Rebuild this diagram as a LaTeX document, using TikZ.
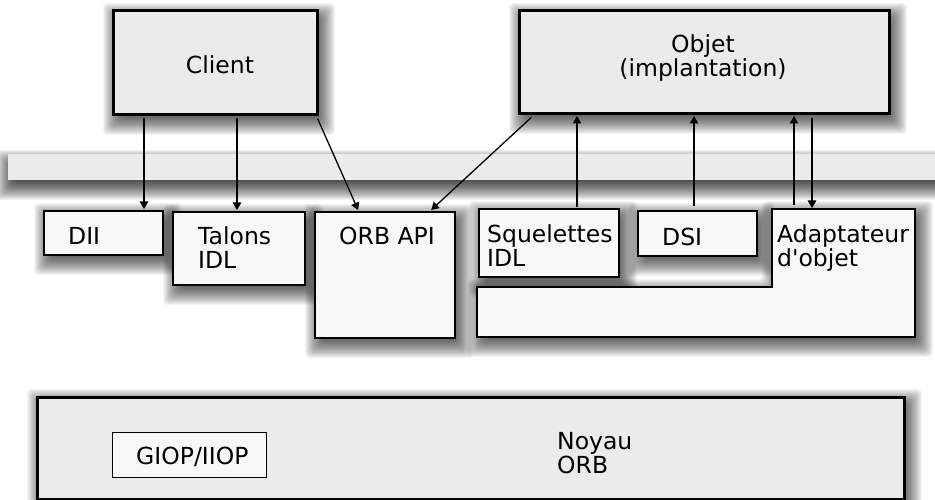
\documentclass[tikz,border=0pt]{standalone}
\usepackage{fontspec}
\setmainfont{DejaVu Sans}
\usetikzlibrary{arrows.meta,backgrounds}
\definecolor{bigfill}{HTML}{EBEBEB}
\definecolor{smallfill}{HTML}{F8F8F8}
\tikzset{
  bigbox/.style={draw=black, line width=3pt, fill=bigfill, anchor=north west, inner sep=0pt, outer sep=0pt},
  smallbox/.style={draw=black, line width=1.8pt, fill=smallfill, anchor=north west, inner sep=0pt, outer sep=0pt},
  lbl/.style={anchor=base west, inner sep=0pt, font=\fontsize{23.5}{24}\selectfont},
  clbl/.style={anchor=base, inner sep=0pt, font=\fontsize{23.5}{24}\selectfont},
  arr/.style={line width=1.3pt, -{Triangle[length=7.5pt,width=8.5pt]}},
  shadelayer/.style={black, opacity=0.045, rounded corners=4pt},
}
\newcommand\myboxshade[1]{%
  \foreach \r in {-10,...,14}{%
    \fill[shadelayer] ([shift={({4-(\r)},{6-(\r)})}]#1.north west) rectangle ([shift={({4+(\r)},{6+(\r)})}]#1.south east);}}
\begin{document}
\begin{tikzpicture}[x=1pt,y=-1pt]
\clip (0,0) rectangle (935,500);
% top boxes
\node[bigbox, minimum width=204pt, minimum height=104pt] (client) at (113,11) {};
\node[bigbox, minimum width=370pt, minimum height=103pt] (objet) at (519,11) {};
\node[clbl] (clientt) at (220,74) {Client};
\node[clbl] (objt1) at (703,53) {Objet};
\node[clbl] (objt2) at (703,77) {(implantation)};
% middle boxes
\node[smallbox, minimum width=119pt, minimum height=44pt] (dii) at (44,211) {};
\node[smallbox, minimum width=132pt, minimum height=73pt] (talons) at (173,212) {};
\node[smallbox, minimum width=140pt, minimum height=126pt] (orbapi) at (315,212) {};
\draw[line width=1.8pt, fill=smallfill] (477,287) -- (772,287) -- (772,209) -- (915,209) -- (915,337) -- (477,337) -- cycle;
\node[anchor=north west, inner sep=0pt, outer sep=0pt, minimum width=143pt, minimum height=128pt] (adapt) at (772,209) {};
\node[smallbox, minimum width=140pt, minimum height=68pt] (squel) at (479,209) {};
\node[smallbox, minimum width=119pt, minimum height=45pt] (dsi) at (638,211) {};
\node[lbl] (diit) at (68,244) {DII};
\node[lbl] (talt1) at (198,244) {Talons};
\node[lbl] (talt2) at (198,268) {IDL};
\node[lbl] (orbt) at (339,244) {ORB API};
\node[lbl] (sqt1) at (487,242) {Squelettes};
\node[lbl] (sqt2) at (487,266) {IDL};
\node[lbl] (dsit) at (662,245) {DSI};
\node[lbl] (adt1) at (777,242) {Adaptateur};
\node[lbl] (adt2) at (777,266) {d\textquotesingle objet};
% bottom
\node[bigbox, minimum width=867pt, minimum height=102pt] (noyau) at (37,397) {};
\node[draw=black, line width=1pt, fill=smallfill, anchor=north west, inner sep=0pt, outer sep=0pt, minimum width=154pt, minimum height=45pt] (giop) at (112,432) {};
\node[lbl] (giopt) at (136,464) {GIOP/IIOP};
\node[lbl] (noyt1) at (557,449) {Noyau};
\node[lbl] (noyt2) at (557,473) {ORB};
% arrows
\draw[arr, shorten <=3pt, shorten >=2pt] ([xshift=31pt]client.south west) -- ([xshift=100pt]dii.north west);
\draw[arr, shorten <=3pt, shorten >=2pt] ([xshift=124pt]client.south west) -- ([xshift=64pt]talons.north west);
\draw[arr, shorten <=4pt, shorten >=2pt] ([xshift=-1pt]client.south east) -- ([xshift=44pt]orbapi.north west);
\draw[arr, shorten <=5pt, shorten >=3pt] ([xshift=16pt]objet.south west) -- ([xshift=114pt]orbapi.north west);
\draw[arr, shorten <=2pt, shorten >=2pt] ([xshift=98pt]squel.north west) -- ([xshift=58pt]objet.south west);
\draw[arr, shorten <=5pt, shorten >=2pt] ([xshift=56pt]dsi.north west) -- ([xshift=175pt]objet.south west);
\draw[arr, shorten <=4pt, shorten >=2pt] ([xshift=22pt]adapt.north west) -- ([xshift=275pt]objet.south west);
\draw[arr, shorten <=4pt, shorten >=1pt] ([xshift=293pt]objet.south west) -- ([xshift=40pt]adapt.north west);
% shadows and band behind
\begin{pgfonlayer}{background}
\fill[white] (0,0) rectangle (935,500);
\foreach \r in {-12,...,12}{%
  \fill[black, opacity=0.05, rounded corners=4pt] ({8-(\r)},{162-(\r)}) rectangle ({960+(\r)},{188+(\r)});}
\fill[bigfill] (8,154) rectangle (960,180);
\myboxshade{client}
\myboxshade{objet}
\myboxshade{dii}
\myboxshade{talons}
\myboxshade{orbapi}
\myboxshade{squel}
\myboxshade{dsi}
\myboxshade{noyau}
\foreach \r in {-10,...,14}{%
  \fill[shadelayer] ({481-(\r)},{293-(\r)}) -- ({776-(\r)},{293-(\r)}) -- ({776-(\r)},{215-(\r)}) -- ({919+(\r)},{215-(\r)}) -- ({919+(\r)},{343+(\r)}) -- ({481-(\r)},{343+(\r)}) -- cycle;}
\end{pgfonlayer}
\end{tikzpicture}
\end{document}
